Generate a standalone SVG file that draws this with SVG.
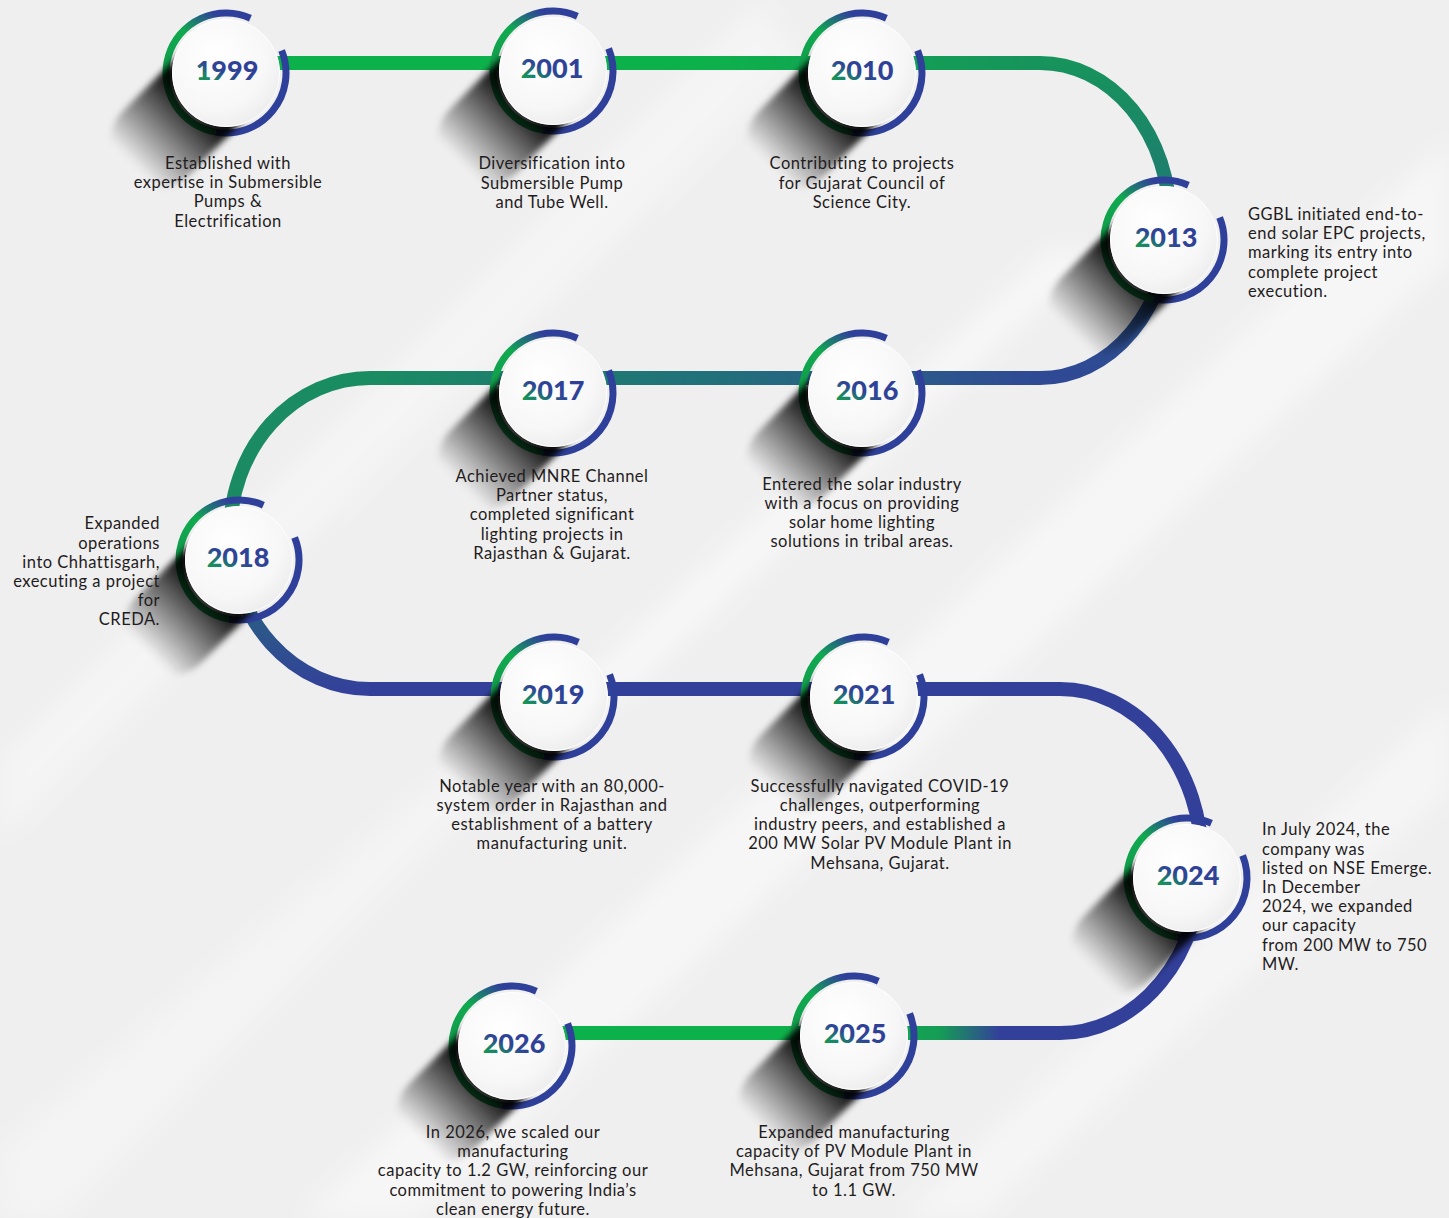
<svg xmlns="http://www.w3.org/2000/svg" xmlns:xlink="http://www.w3.org/1999/xlink" width="1449" height="1218" viewBox="0 0 1449 1218">
<defs>
<style>
.desc{font-family:"Lato","Liberation Sans",sans-serif;font-size:16.5px;letter-spacing:0.5px;fill:#1f1c1d;}
.mid{text-anchor:middle;}
.end{text-anchor:end;}
.year{font-family:"Lato","Liberation Sans",sans-serif;font-weight:900;font-size:27px;text-anchor:middle;fill:url(#yearGrad);}
.trk{fill:none;stroke-width:14;}
</style>
<linearGradient id="yearGrad" x1="0" y1="0.9" x2="0.7" y2="0.1">
<stop offset="0" stop-color="#0ea54e"/>
<stop offset="0.3" stop-color="#1f7a70"/>
<stop offset="0.5" stop-color="#2e4596"/>
<stop offset="1" stop-color="#2f3f98"/>
</linearGradient>
<linearGradient id="ringGrad" gradientUnits="userSpaceOnUse" x1="30" y1="-62" x2="-40" y2="50">
<stop offset="0" stop-color="#2f409a"/>
<stop offset="0.18" stop-color="#2f409a"/>
<stop offset="0.42" stop-color="#10a950"/>
<stop offset="1" stop-color="#129447"/>
</linearGradient>
<linearGradient id="shadowGrad" gradientUnits="userSpaceOnUse" x1="-30" y1="30" x2="-92" y2="92">
<stop offset="0" stop-color="#000" stop-opacity="0.95"/>
<stop offset="0.3" stop-color="#000" stop-opacity="0.65"/>
<stop offset="1" stop-color="#000" stop-opacity="0"/>
</linearGradient>
<radialGradient id="faceGrad" cx="0.4" cy="0.35" r="0.7">
<stop offset="0" stop-color="#ffffff"/>
<stop offset="0.7" stop-color="#f7f7f7"/>
<stop offset="1" stop-color="#ececec"/>
</radialGradient>
<filter id="blur" x="-50%" y="-50%" width="200%" height="200%">
<feGaussianBlur stdDeviation="3"/>
</filter>
<filter id="bgBlur" x="-20%" y="-20%" width="140%" height="140%">
<feGaussianBlur stdDeviation="12"/>
</filter>
<linearGradient id="g1" gradientUnits="userSpaceOnUse" x1="700" y1="0" x2="1040" y2="0">
<stop offset="0" stop-color="#0db14b"/>
<stop offset="1" stop-color="#17935c"/>
</linearGradient>
<linearGradient id="g2" gradientUnits="userSpaceOnUse" x1="0" y1="63" x2="0" y2="378">
<stop offset="0" stop-color="#17935c"/>
<stop offset="0.4" stop-color="#1e7c70"/>
<stop offset="0.75" stop-color="#2c548c"/>
<stop offset="1" stop-color="#2f4995"/>
</linearGradient>
<linearGradient id="g3" gradientUnits="userSpaceOnUse" x1="1040" y1="0" x2="370" y2="0">
<stop offset="0" stop-color="#2f4995"/>
<stop offset="0.2" stop-color="#2b5a89"/>
<stop offset="0.5" stop-color="#21717a"/>
<stop offset="0.8" stop-color="#1d7f6c"/>
<stop offset="1" stop-color="#1a8c62"/>
</linearGradient>
<linearGradient id="g4" gradientUnits="userSpaceOnUse" x1="0" y1="378" x2="0" y2="689">
<stop offset="0" stop-color="#1a8c62"/>
<stop offset="0.45" stop-color="#1b8a64"/>
<stop offset="0.7" stop-color="#28637f"/>
<stop offset="1" stop-color="#33419a"/>
</linearGradient>
<linearGradient id="g7" gradientUnits="userSpaceOnUse" x1="1060" y1="0" x2="512" y2="0">
<stop offset="0" stop-color="#33409a"/>
<stop offset="0.11" stop-color="#33409a"/>
<stop offset="0.22" stop-color="#159d55"/>
<stop offset="0.4" stop-color="#0db14b"/>
<stop offset="1" stop-color="#0db14b"/>
</linearGradient>
<g id="nodeBase">
<path d="M 55.63 -22.48 A 60 60 0 0 1 -10.42 59.09" fill="none" stroke="#2f409a" stroke-width="7"/>
<path d="M -10.42 59.09 A 60 60 0 1 1 24.40 -54.81" fill="none" stroke="url(#ringGrad)" stroke-width="7"/>
<path d="M -42.53 -22.53 L -102.53 37.47 A 46 46 0 0 0 -37.47 102.53 L 22.53 42.53 Z" fill="url(#shadowGrad)" filter="url(#blur)"/>
<circle r="54" fill="url(#faceGrad)"/>
<circle r="53.5" fill="none" stroke="#ffffff" stroke-width="1" opacity="0.9"/>
</g>
</defs>

<rect width="1449" height="1218" fill="#efefef"/>
<g id="background" filter="url(#bgBlur)" fill="#ffffff">
<polygon points="300,1218 420,1218 1449,260 1449,140" opacity="0.45"/>
<polygon points="0,760 0,840 800,60 760,0" opacity="0.35"/>
<polygon points="560,700 620,700 1100,250 1050,250" opacity="0.5"/>
<polygon points="900,1218 980,1218 1449,790 1449,700" opacity="0.4"/>
<polygon points="0,1150 0,1218 60,1218 520,760 460,760" opacity="0.3"/>
</g>

<g id="connectors">
<path class="trk" stroke="#0db14b" d="M 226 63 L 700 63"/>
<path class="trk" stroke="url(#g1)" d="M 699 63 L 1041 63"/>
<path class="trk" stroke="url(#g2)" d="M 1040 63 A 130 157.5 0 0 1 1040 378"/>
<path class="trk" stroke="url(#g3)" d="M 1041 378 L 369 378"/>
<path class="trk" stroke="url(#g4)" d="M 370 378 A 140 155.5 0 0 0 370 689"/>
<path class="trk" stroke="#33409a" d="M 369 689 L 1061 689"/>
<path class="trk" stroke="#33409a" d="M 1060 689 A 142 172 0 0 1 1060 1033"/>
<path class="trk" stroke="url(#g7)" d="M 1061 1033 L 512 1033"/>
</g>

<g id="node-1999">
<use xlink:href="#nodeBase" href="#nodeBase" transform="translate(226,73)"/>
<text class="year" x="227" y="80">1999</text>
<text class="desc mid" x="228" y="169">Established with</text>
<text class="desc mid" x="228" y="188">expertise in Submersible</text>
<text class="desc mid" x="228" y="207">Pumps &amp;</text>
<text class="desc mid" x="228" y="227">Electrification</text>
</g>

<g id="node-2001">
<use xlink:href="#nodeBase" href="#nodeBase" transform="translate(553,71)"/>
<text class="year" x="552" y="78">2001</text>
<text class="desc mid" x="552" y="169">Diversification into</text>
<text class="desc mid" x="552" y="189">Submersible Pump</text>
<text class="desc mid" x="552" y="208">and Tube Well.</text>
</g>

<g id="node-2010">
<use xlink:href="#nodeBase" href="#nodeBase" transform="translate(862,73)"/>
<text class="year" x="862" y="80">2010</text>
<text class="desc mid" x="862" y="169">Contributing to projects</text>
<text class="desc mid" x="862" y="189">for Gujarat Council of</text>
<text class="desc mid" x="862" y="208">Science City.</text>
</g>

<g id="node-2013">
<use xlink:href="#nodeBase" href="#nodeBase" transform="translate(1164,240)"/>
<text class="year" x="1166" y="247">2013</text>
<text class="desc" x="1248" y="220">GGBL initiated end-to-</text>
<text class="desc" x="1248" y="239">end solar EPC projects,</text>
<text class="desc" x="1248" y="258">marking its entry into</text>
<text class="desc" x="1248" y="278">complete project</text>
<text class="desc" x="1248" y="297">execution.</text>
</g>

<g id="node-2017">
<use xlink:href="#nodeBase" href="#nodeBase" transform="translate(553,393)"/>
<text class="year" x="553" y="400">2017</text>
<text class="desc mid" x="552" y="482">Achieved MNRE Channel</text>
<text class="desc mid" x="552" y="501">Partner status,</text>
<text class="desc mid" x="552" y="520">completed significant</text>
<text class="desc mid" x="552" y="540">lighting projects in</text>
<text class="desc mid" x="552" y="559">Rajasthan &amp; Gujarat.</text>
</g>

<g id="node-2016">
<use xlink:href="#nodeBase" href="#nodeBase" transform="translate(862,393)"/>
<text class="year" x="867" y="400">2016</text>
<text class="desc mid" x="862" y="490">Entered the solar industry</text>
<text class="desc mid" x="862" y="509">with a focus on providing</text>
<text class="desc mid" x="862" y="528">solar home lighting</text>
<text class="desc mid" x="862" y="547">solutions in tribal areas.</text>
</g>

<g id="node-2018">
<use xlink:href="#nodeBase" href="#nodeBase" transform="translate(239,560)"/>
<text class="year" x="238" y="567">2018</text>
<text class="desc end" x="160" y="529">Expanded</text>
<text class="desc end" x="160" y="549">operations</text>
<text class="desc end" x="160" y="568">into Chhattisgarh,</text>
<text class="desc end" x="160" y="587">executing a project</text>
<text class="desc end" x="160" y="606">for</text>
<text class="desc end" x="160" y="625">CREDA.</text>
</g>

<g id="node-2019">
<use xlink:href="#nodeBase" href="#nodeBase" transform="translate(554,697)"/>
<text class="year" x="553" y="704">2019</text>
<text class="desc mid" x="552" y="792">Notable year with an 80,000-</text>
<text class="desc mid" x="552" y="811">system order in Rajasthan and</text>
<text class="desc mid" x="552" y="830">establishment of a battery</text>
<text class="desc mid" x="552" y="849">manufacturing unit.</text>
</g>

<g id="node-2021">
<use xlink:href="#nodeBase" href="#nodeBase" transform="translate(864,697)"/>
<text class="year" x="864" y="704">2021</text>
<text class="desc mid" x="880" y="792">Successfully navigated COVID-19</text>
<text class="desc mid" x="880" y="811">challenges, outperforming</text>
<text class="desc mid" x="880" y="830">industry peers, and established a</text>
<text class="desc mid" x="880" y="849">200 MW Solar PV Module Plant in</text>
<text class="desc mid" x="880" y="869">Mehsana, Gujarat.</text>
</g>

<g id="node-2024">
<use xlink:href="#nodeBase" href="#nodeBase" transform="translate(1187,878)"/>
<text class="year" x="1188" y="885">2024</text>
<text class="desc" x="1262" y="835">In July 2024, the</text>
<text class="desc" x="1262" y="855">company was</text>
<text class="desc" x="1262" y="874">listed on NSE Emerge.</text>
<text class="desc" x="1262" y="893">In December</text>
<text class="desc" x="1262" y="912">2024, we expanded</text>
<text class="desc" x="1262" y="931">our capacity</text>
<text class="desc" x="1262" y="951">from 200 MW to 750</text>
<text class="desc" x="1262" y="970">MW.</text>
</g>

<g id="node-2025">
<use xlink:href="#nodeBase" href="#nodeBase" transform="translate(854,1036)"/>
<text class="year" x="855" y="1043">2025</text>
<text class="desc mid" x="854" y="1138">Expanded manufacturing</text>
<text class="desc mid" x="854" y="1157">capacity of PV Module Plant in</text>
<text class="desc mid" x="854" y="1176">Mehsana, Gujarat from 750 MW</text>
<text class="desc mid" x="854" y="1196">to 1.1 GW.</text>
</g>

<g id="node-2026">
<use xlink:href="#nodeBase" href="#nodeBase" transform="translate(512,1046)"/>
<text class="year" x="514" y="1053">2026</text>
<text class="desc mid" x="513" y="1138">In 2026, we scaled our</text>
<text class="desc mid" x="513" y="1157">manufacturing</text>
<text class="desc mid" x="513" y="1176">capacity to 1.2 GW, reinforcing our</text>
<text class="desc mid" x="513" y="1196">commitment to powering India’s</text>
<text class="desc mid" x="513" y="1215">clean energy future.</text>
</g>
</svg>
